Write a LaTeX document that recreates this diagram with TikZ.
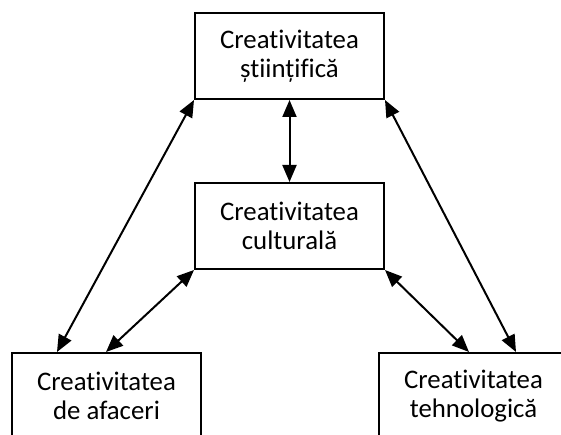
\documentclass[tikz,border=0pt]{standalone}
\usepackage{fontspec}
\setmainfont[Ligatures=NoCommon]{Carlito}
\usetikzlibrary{arrows.meta}
\begin{document}
\begin{tikzpicture}[x=1pt,y=1pt,
  box/.style={draw, line width=2pt, minimum width=189pt, minimum height=86pt,
    align=center, inner sep=0pt, font=\fontsize{26.8}{28.5}\selectfont},
  link/.style={line width=2pt, {Triangle[length=17pt,width=14pt]}-{Triangle[length=17pt,width=14pt]}}]
  \clip (0,0) rectangle (561,-435);
  \fill[white] (0,0) rectangle (561,-435);
  % the four fields of creativity
  \node[box] (sci) at (289.5,-56)  {Creativitatea\\științifică};
  \node[box] (cul) at (289.5,-226) {Creativitatea\\culturală};
  \node[box] (biz) at (106.5,-396) {Creativitatea\\de afaceri};
  \node[box] (tec) at (473.5,-396) {Creativitatea\\tehnologică};
  % two-way links between them
  \draw[link] (sci.south) -- (cul.north);
  \draw[link] (sci.south west) -- ([xshift=46pt]biz.north west);
  \draw[link] (cul.south west) -- ([xshift=95pt]biz.north west);
  \draw[link] (sci.south east) -- ([xshift=138pt]tec.north west);
  \draw[link] (cul.south east) -- ([xshift=91pt]tec.north west);
\end{tikzpicture}
\end{document}
